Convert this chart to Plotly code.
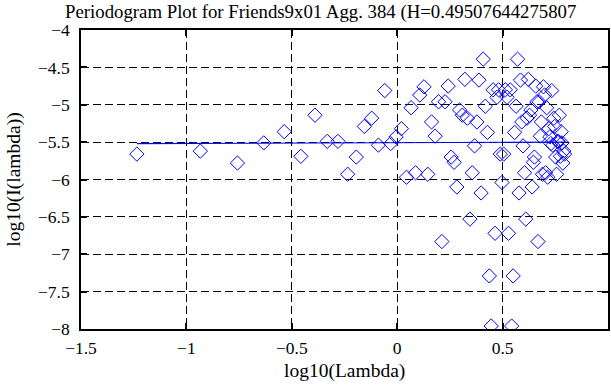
import plotly.graph_objects as go

# log10(Lambda) of each periodogram point
log_lambda = [
    -1.235, -0.934, -0.758, -0.633, -0.536, -0.457, -0.390, -0.332, -0.281, -0.235,
    -0.194, -0.156, -0.121, -0.089, -0.059, -0.031, -0.005, 0.020, 0.044, 0.066,
    0.087, 0.107, 0.127, 0.145, 0.163, 0.180, 0.196, 0.212, 0.227, 0.242,
    0.256, 0.270, 0.283, 0.296, 0.309, 0.321, 0.333, 0.345, 0.356, 0.367,
    0.378, 0.388, 0.398, 0.408, 0.418, 0.428, 0.437, 0.446, 0.455, 0.464,
    0.473, 0.481, 0.489, 0.497, 0.505, 0.513, 0.521, 0.528, 0.536, 0.543,
    0.550, 0.557, 0.564, 0.571, 0.578, 0.585, 0.591, 0.597, 0.604, 0.610,
    0.616, 0.622, 0.628, 0.634, 0.640, 0.646, 0.651, 0.657, 0.663, 0.668,
    0.673, 0.679, 0.684, 0.689, 0.694, 0.699, 0.704, 0.709, 0.714, 0.719,
    0.724, 0.729, 0.733, 0.738, 0.743, 0.747, 0.752, 0.756, 0.761, 0.765,
    0.769, 0.774, 0.778, 0.782, 0.786, 0.790, 0.794,
]

# log10(I(lambda)) of each point
log_I = [
    -5.66, -5.62, -5.78, -5.51, -5.36, -5.69, -5.14, -5.49, -5.49, -5.93,
    -5.70, -5.29, -5.18, -5.54, -4.81, -5.52, -5.43, -5.32, -5.97, -5.04,
    -5.91, -4.87, -4.76, -5.93, -5.23, -5.42, -4.96, -6.83, -4.96, -4.75,
    -5.70, -5.77, -6.10, -5.07, -5.14, -4.66, -5.18, -6.53, -5.91, -5.55,
    -5.23, -4.67, -6.18, -4.39, -5.02, -5.37, -7.29, -7.96, -4.80, -6.72,
    -4.90, -4.80, -5.66, -6.04, -5.66, -4.80, -4.90, -6.72, -4.80, -7.96,
    -7.29, -5.37, -5.02, -4.39, -6.18, -4.67, -5.23, -5.55, -5.91, -6.53,
    -5.18, -4.66, -5.14, -5.07, -6.10, -5.77, -5.70, -4.75, -4.96, -6.83,
    -4.96, -5.42, -5.23, -5.93, -4.76, -4.87, -5.91, -5.04, -5.97, -5.32,
    -5.43, -5.52, -4.81, -5.54, -5.18, -5.29, -5.70, -5.93, -5.49, -5.49,
    -5.14, -5.69, -5.36, -5.51, -5.78, -5.62, -5.66,
]

# fitted regression line end points
fit_x = [-1.235, 0.794]
fit_y = [-5.52, -5.50]

x_ticks = [-1.5, -1, -0.5, 0, 0.5, 1]
y_ticks = [-8, -7.5, -7, -6.5, -6, -5.5, -5, -4.5, -4]

title_text = "Periodogram Plot for Friends9x01 Agg. 384 (H=0.49507644275807"
x_title = "log10(Lambda)"
y_title = "log10(I(lambda))"

FONT = "Liberation Serif, Times New Roman, serif"
BLUE = "#0000ff"

fig = go.Figure()
fig.add_trace(go.Scatter(
    x=log_lambda, y=log_I, mode="markers",
    marker=dict(symbol="diamond-open", size=11, color=BLUE, line=dict(width=1, color=BLUE)),
    showlegend=False, hoverinfo="skip",
))
fig.add_trace(go.Scatter(
    x=fit_x, y=fit_y, mode="lines",
    line=dict(color=BLUE, width=1.1),
    showlegend=False, hoverinfo="skip",
))

axis_common = dict(
    showline=True, linecolor="black", linewidth=1.5, mirror="ticks",
    ticks="inside", ticklen=6, tickwidth=1.5, tickcolor="black",
    showgrid=True, gridcolor="black", gridwidth=1, griddash="8px,4px",
    zeroline=False, automargin=False,
    tickfont=dict(family=FONT, size=17.5, color="black"),
)

fig.update_xaxes(range=[-1.5, 1], tickvals=x_ticks, ticklabelstandoff=2, **axis_common)
fig.update_yaxes(
    range=[-8, -4], tickvals=y_ticks,
    title=dict(text=y_title, font=dict(family=FONT, size=19.5, color="black"), standoff=12),
    ticklabelstandoff=6,
    **axis_common,
)

fig.add_annotation(
    text=x_title, xref="paper", yref="paper", x=0.5, y=(329 - 371) / 299,
    xanchor="center", yanchor="middle", showarrow=False,
    font=dict(family=FONT, size=19.5, color="black"),
)

fig.update_layout(
    width=611, height=385,
    margin=dict(l=81, r=3, t=30, b=56, autoexpand=False),
    paper_bgcolor="white", plot_bgcolor="white",
    title=dict(text=title_text, x=65 / 611, xanchor="left", xref="container",
               y=1 - 11 / 385, yanchor="middle", yref="container",
               font=dict(family=FONT, size=18.8, color="black")),
)

fig.write_html(
    "out.html",
    config={"displayModeBar": False},
    post_script="document.body.style.margin='0';document.body.style.overflow='hidden';",
)
